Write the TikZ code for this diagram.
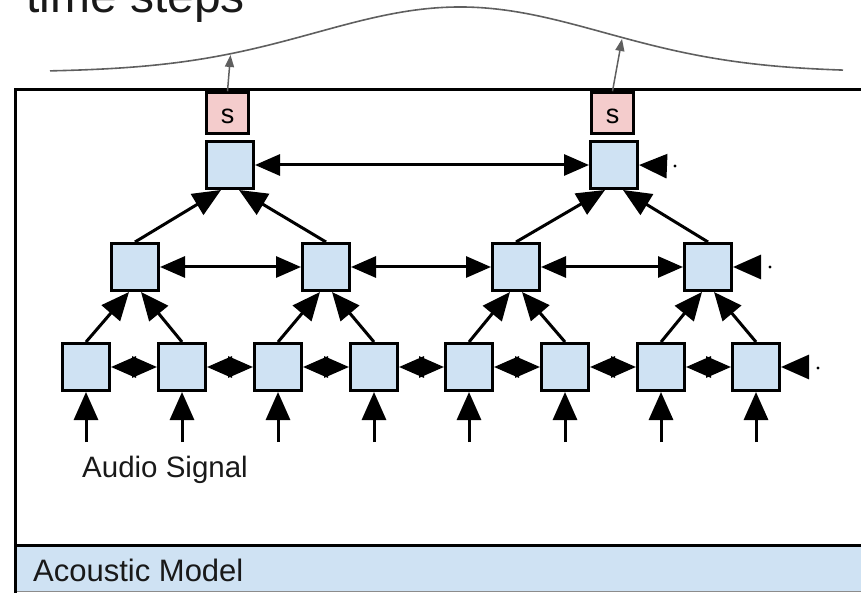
\documentclass[tikz,border=0pt]{standalone}
\usepackage{fontspec}
\setmainfont{Liberation Sans}
\usetikzlibrary{arrows.meta}
\definecolor{cellblue}{HTML}{CFE2F3}
\definecolor{cellpink}{HTML}{F4CCCC}
\definecolor{curvegray}{HTML}{5F5F5F}

\begin{document}
\begin{tikzpicture}[x=1pt,y=-1pt,
  cell/.style={draw=black, line width=3pt, fill=cellblue,
    minimum width=47pt, minimum height=47pt, inner sep=0pt},
  sbox/.style={draw=black, line width=2.5pt, fill=cellpink,
    minimum width=42pt, minimum height=41pt, inner sep=0pt,
    font=\fontsize{27}{27}\selectfont, text height=22pt, text depth=0pt},
  arr/.style={line width=3pt, -{Triangle[length=28pt,width=24pt]}},
  biarr/.style={line width=3pt, {Triangle[length=25pt,width=21pt]}-{Triangle[length=25pt,width=21pt]}},
  outarr/.style={curvegray, line width=1.5pt, -{Triangle[length=12pt,width=9pt]}},
  tag/.style={inner sep=0pt, text=black!90}
]
\useasboundingbox (0,0) rectangle (861,593);

% heading, cut by the top edge
\node[tag, anchor=base west, font=\fontsize{48}{48}\selectfont] (head) at (26,13) {time steps};

% smooth output curve
\draw[curvegray, line width=1.6pt] plot[domain=50:843, samples=140]
  (\x, {72-65*exp(-((\x-460)/144)^2/2)});

% frame and bottom band
\fill[cellblue] (15,545) rectangle (861,591);
\draw[black!45, line width=0.8pt] (15,591) -- (861,591);
\draw[line width=3pt] (15,545) -- (861,545);
\draw[line width=3pt] (861,90) -- (15,90) -- (15,593);
\node[tag, anchor=base west, font=\fontsize{31}{31}\selectfont] (am) at (33,581) {Acoustic Model};

% bottom layer
\foreach \i/\x in {1/86,2/182,3/278,4/374,5/469,6/565,7/661,8/756}{
  \node[cell] (B\i) at (\x,367) {};
  \coordinate (in\i) at (\x,442);
}
% middle layer
\node[cell] (M1) at (135,267) {};
\node[cell] (M2) at (326,267) {};
\node[cell] (M3) at (516,267) {};
\node[cell] (M4) at (708,267) {};
% top layer
\node[cell] (T1) at (230,165) {};
\node[cell] (T2) at (614,165) {};
% softmax boxes
\node[sbox] (S1) at (227.5,113) {s};
\node[sbox] (S2) at (612.5,113) {s};

% inputs
\foreach \i in {1,...,8}{
  \draw[arr] (in\i) -- (B\i.south);
}
\node[tag, anchor=base, font=\fontsize{29.5}{29.5}\selectfont] (audio) at (165,477) {Audio Signal};

% recurrent links, bottom layer
\foreach \a/\b in {1/2,2/3,3/4,4/5,5/6,6/7,7/8}{
  \draw[biarr] (B\a.east) -- (B\b.west);
}
% recurrent links, middle and top layers
\draw[biarr] (M1.east) -- (M2.west);
\draw[biarr] (M2.east) -- (M3.west);
\draw[biarr] (M3.east) -- (M4.west);
\draw[biarr] (T1.east) -- (T2.west);

% incoming state from the right
\coordinate (rb) at (805,367);
\coordinate (rm) at (758,267);
\coordinate (rt) at (663,166);
\draw[arr] (rb) -- (B8.east);
\draw[arr] (rm) -- (M4.east);
\draw[arr] (rt) -- (T2.east);
\fill (818,368) circle (1.7pt);
\fill (770,267) circle (1.7pt);
\fill (675,166) circle (1.7pt);

% pyramid links, bottom to middle
\draw[arr] (B1.north) -- ([xshift=-6pt]M1.south);
\draw[arr] (B2.north) -- ([xshift=6pt]M1.south);
\draw[arr] (B3.north) -- ([xshift=-6pt]M2.south);
\draw[arr] (B4.north) -- ([xshift=6pt]M2.south);
\draw[arr] (B5.north) -- ([xshift=-6pt]M3.south);
\draw[arr] (B6.north) -- ([xshift=6pt]M3.south);
\draw[arr] (B7.north) -- ([xshift=-6pt]M4.south);
\draw[arr] (B8.north) -- ([xshift=6pt]M4.south);
% middle to top
\draw[arr] (M1.north) -- ([xshift=-9pt]T1.south);
\draw[arr] (M2.north) -- ([xshift=9pt]T1.south);
\draw[arr] (M3.north) -- ([xshift=-9pt]T2.south);
\draw[arr] (M4.north) -- ([xshift=9pt]T2.south);

% outputs onto the curve
\coordinate (c1) at (230.5,55);
\coordinate (c2) at (622,39);
\draw[outarr] (S1.north) -- (c1);
\draw[outarr] (S2.north) -- (c2);
\end{tikzpicture}
\end{document}
